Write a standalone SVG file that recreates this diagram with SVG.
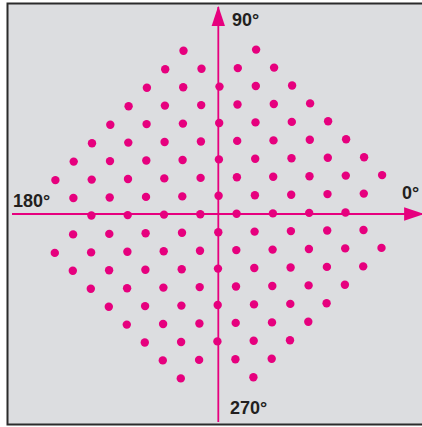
<svg xmlns="http://www.w3.org/2000/svg" width="422" height="427" viewBox="0 0 422 427">
<style>
.frame{fill:#dcdde0;stroke:#2b2b2b;stroke-width:2}
.axis{stroke:#e6007e;stroke-width:1.8;fill:none}
.lbl{font-family:"Liberation Sans",Arial,sans-serif;font-weight:bold;font-size:18px;fill:#231f20}
.pts circle{fill:#e6007e}
</style>
<defs>
<marker id="arr" markerUnits="userSpaceOnUse" markerWidth="20" markerHeight="14" viewBox="0 0 18 12" refX="17" refY="6" orient="auto">
<path d="M0,0 L18,6 L0,12 Z" fill="#e6007e"/>
</marker>
</defs>
<rect class="frame" x="7.5" y="3.5" width="425" height="421"/>
<g id="connectors">
<line class="axis" x1="12" y1="214" x2="423" y2="214" marker-end="url(#arr)"/>
<line class="axis" x1="218.3" y1="422" x2="218.3" y2="7" marker-end="url(#arr)"/>
</g>
<g id="labels">
<text class="lbl" x="232" y="26">90°</text>
<text class="lbl" x="13" y="207">180°</text>
<text class="lbl" x="402" y="199">0°</text>
<text class="lbl" x="230" y="414">270°</text>
</g>
<g id="constellation" class="pts">
<circle cx="183.5" cy="50.8" r="4.2"/><circle cx="256.1" cy="49.6" r="4.2"/>
<circle cx="165.2" cy="69.2" r="4.2"/><circle cx="201.5" cy="68.7" r="4.2"/><circle cx="237.8" cy="68.1" r="4.2"/><circle cx="274.1" cy="67.6" r="4.2"/>
<circle cx="146.9" cy="87.7" r="4.2"/><circle cx="183.2" cy="87.2" r="4.2"/><circle cx="219.5" cy="86.6" r="4.2"/><circle cx="255.8" cy="86.0" r="4.2"/><circle cx="292.1" cy="85.5" r="4.2"/>
<circle cx="128.6" cy="106.2" r="4.2"/><circle cx="164.9" cy="105.6" r="4.2"/><circle cx="201.2" cy="105.1" r="4.2"/><circle cx="237.5" cy="104.5" r="4.2"/><circle cx="273.8" cy="104.0" r="4.2"/><circle cx="310.1" cy="103.4" r="4.2"/>
<circle cx="110.3" cy="124.7" r="4.2"/><circle cx="146.6" cy="124.1" r="4.2"/><circle cx="182.9" cy="123.6" r="4.2"/><circle cx="219.2" cy="123.0" r="4.2"/><circle cx="255.5" cy="122.4" r="4.2"/><circle cx="291.8" cy="121.9" r="4.2"/><circle cx="328.1" cy="121.3" r="4.2"/>
<circle cx="92.0" cy="143.2" r="4.2"/><circle cx="128.3" cy="142.6" r="4.2"/><circle cx="164.6" cy="142.0" r="4.2"/><circle cx="200.9" cy="141.5" r="4.2"/><circle cx="237.2" cy="140.9" r="4.2"/><circle cx="273.5" cy="140.4" r="4.2"/><circle cx="309.8" cy="139.8" r="4.2"/><circle cx="346.1" cy="139.2" r="4.2"/>
<circle cx="73.7" cy="161.6" r="4.2"/><circle cx="110.0" cy="161.1" r="4.2"/><circle cx="146.3" cy="160.5" r="4.2"/><circle cx="182.6" cy="160.0" r="4.2"/><circle cx="218.9" cy="159.4" r="4.2"/><circle cx="255.2" cy="158.8" r="4.2"/><circle cx="291.5" cy="158.3" r="4.2"/><circle cx="327.8" cy="157.7" r="4.2"/><circle cx="364.1" cy="157.2" r="4.2"/>
<circle cx="55.4" cy="180.1" r="4.2"/><circle cx="91.7" cy="179.6" r="4.2"/><circle cx="128.0" cy="179.0" r="4.2"/><circle cx="164.3" cy="178.4" r="4.2"/><circle cx="200.6" cy="177.9" r="4.2"/><circle cx="236.9" cy="177.3" r="4.2"/><circle cx="273.2" cy="176.8" r="4.2"/><circle cx="309.5" cy="176.2" r="4.2"/><circle cx="345.8" cy="175.6" r="4.2"/><circle cx="382.1" cy="175.1" r="4.2"/>
<circle cx="73.4" cy="198.0" r="4.2"/><circle cx="109.7" cy="197.5" r="4.2"/><circle cx="146.0" cy="196.9" r="4.2"/><circle cx="182.3" cy="196.4" r="4.2"/><circle cx="218.6" cy="195.8" r="4.2"/><circle cx="254.9" cy="195.2" r="4.2"/><circle cx="291.2" cy="194.7" r="4.2"/><circle cx="327.5" cy="194.1" r="4.2"/><circle cx="363.8" cy="193.6" r="4.2"/>
<circle cx="91.4" cy="215.5" r="4.2"/><circle cx="127.7" cy="215.1" r="4.2"/><circle cx="164.0" cy="214.6" r="4.2"/><circle cx="200.3" cy="214.2" r="4.2"/><circle cx="236.6" cy="213.8" r="4.2"/><circle cx="272.9" cy="213.4" r="4.2"/><circle cx="309.2" cy="212.9" r="4.2"/><circle cx="345.5" cy="212.5" r="4.2"/>
<circle cx="73.1" cy="234.4" r="4.2"/><circle cx="109.3" cy="233.9" r="4.2"/><circle cx="145.6" cy="233.3" r="4.2"/><circle cx="182.0" cy="232.8" r="4.2"/><circle cx="218.3" cy="232.2" r="4.2"/><circle cx="254.6" cy="231.6" r="4.2"/><circle cx="290.9" cy="231.1" r="4.2"/><circle cx="327.2" cy="230.5" r="4.2"/><circle cx="363.5" cy="230.0" r="4.2"/>
<circle cx="54.8" cy="252.9" r="4.2"/><circle cx="91.1" cy="252.4" r="4.2"/><circle cx="127.4" cy="251.8" r="4.2"/><circle cx="163.7" cy="251.2" r="4.2"/><circle cx="200.0" cy="250.7" r="4.2"/><circle cx="236.3" cy="250.1" r="4.2"/><circle cx="272.6" cy="249.6" r="4.2"/><circle cx="308.9" cy="249.0" r="4.2"/><circle cx="345.2" cy="248.4" r="4.2"/><circle cx="381.5" cy="247.9" r="4.2"/>
<circle cx="72.8" cy="270.8" r="4.2"/><circle cx="109.1" cy="270.3" r="4.2"/><circle cx="145.4" cy="269.7" r="4.2"/><circle cx="181.7" cy="269.2" r="4.2"/><circle cx="218.0" cy="268.6" r="4.2"/><circle cx="254.3" cy="268.0" r="4.2"/><circle cx="290.6" cy="267.5" r="4.2"/><circle cx="326.9" cy="266.9" r="4.2"/><circle cx="363.2" cy="266.4" r="4.2"/>
<circle cx="90.8" cy="288.8" r="4.2"/><circle cx="127.1" cy="288.2" r="4.2"/><circle cx="163.4" cy="287.6" r="4.2"/><circle cx="199.7" cy="287.1" r="4.2"/><circle cx="236.0" cy="286.5" r="4.2"/><circle cx="272.3" cy="286.0" r="4.2"/><circle cx="308.6" cy="285.4" r="4.2"/><circle cx="344.9" cy="284.8" r="4.2"/>
<circle cx="108.8" cy="306.7" r="4.2"/><circle cx="145.1" cy="306.1" r="4.2"/><circle cx="181.4" cy="305.6" r="4.2"/><circle cx="217.7" cy="305.0" r="4.2"/><circle cx="254.0" cy="304.4" r="4.2"/><circle cx="290.3" cy="303.9" r="4.2"/><circle cx="326.6" cy="303.3" r="4.2"/>
<circle cx="126.8" cy="324.6" r="4.2"/><circle cx="163.1" cy="324.0" r="4.2"/><circle cx="199.4" cy="323.5" r="4.2"/><circle cx="235.7" cy="322.9" r="4.2"/><circle cx="272.0" cy="322.4" r="4.2"/><circle cx="308.3" cy="321.8" r="4.2"/>
<circle cx="144.8" cy="342.5" r="4.2"/><circle cx="181.1" cy="342.0" r="4.2"/><circle cx="217.4" cy="341.4" r="4.2"/><circle cx="253.7" cy="340.8" r="4.2"/><circle cx="290.0" cy="340.3" r="4.2"/>
<circle cx="162.8" cy="360.4" r="4.2"/><circle cx="199.1" cy="359.9" r="4.2"/><circle cx="235.4" cy="359.3" r="4.2"/><circle cx="271.7" cy="358.8" r="4.2"/>
<circle cx="180.8" cy="378.4" r="4.2"/><circle cx="253.4" cy="377.2" r="4.2"/>
</g>
</svg>
